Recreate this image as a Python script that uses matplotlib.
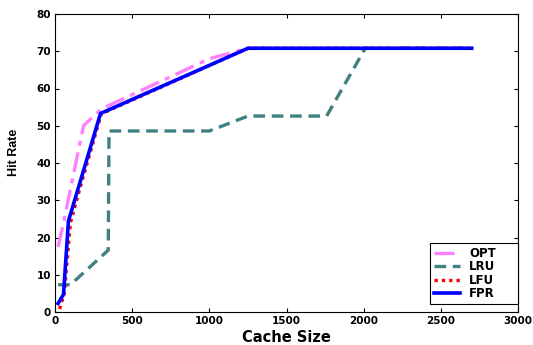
import matplotlib
matplotlib.use('Agg')
import matplotlib.pyplot as plt
from matplotlib.font_manager import FontProperties

plt.rcParams['font.family'] = ['DejaVu Sans']
plt.rcParams['font.weight'] = 'bold'

# ------------------- data -------------------
opt_x = [20, 50, 185, 300, 1000, 1250, 2700]
opt_y = [17.5, 23, 50, 54.5, 68, 70.8, 70.8]

lru_x = [20, 100, 345, 350, 1000, 1250, 1760, 2010, 2700]
lru_y = [7.3, 7.3, 16.6, 48.6, 48.6, 52.6, 52.6, 70.8, 70.8]

lfu_x = [30, 60, 100, 160, 300, 1250, 2700]
lfu_y = [0.8, 5, 24, 33, 53.2, 70.8, 70.8]

fpr_x = [20, 55, 87, 295, 1250, 2700]
fpr_y = [2.3, 4.7, 24.4, 53.3, 70.8, 70.8]

fig = plt.figure(figsize=(5.33, 3.45), dpi=100)
ax = fig.add_axes([55/533., 1 - 312/345., 463/533., 298/345.])

ax.plot(opt_x, opt_y, color='#ff80ff', lw=2.4, ls='-.', dashes=(6, 2, 1.5, 2), label='OPT')
ax.plot(lru_x, lru_y, color='#408080', lw=2.4, ls='--', dashes=(3.5, 2), label='LRU')
ax.plot(lfu_x, lfu_y, color='#ff0000', lw=2.4, ls=':', dashes=(1, 1.2), label='LFU')
ax.plot(fpr_x, fpr_y, color='#0000ff', lw=2.6, label='FPR')

ax.set_xlim(0, 3000)
ax.set_ylim(0, 80)
ax.set_xticks(range(0, 3001, 500))
ax.set_yticks(range(0, 81, 10))
ax.tick_params(direction='in', top=True, right=True, labelsize=7.5, length=3, pad=3)
for lab in ax.get_xticklabels() + ax.get_yticklabels():
    lab.set_fontweight('bold')

ax.set_xlabel('Cache Size', fontsize=10.5, fontweight='bold', labelpad=2.5)
ylab_font = FontProperties(family='Liberation Sans', weight='bold', size=9)
ax.set_ylabel('Hit Rate', fontproperties=ylab_font)
ax.yaxis.set_label_coords(-0.075, 0.535)

leg = ax.legend(loc='lower left', bbox_to_anchor=(0.81, 0.027, 0.19, 0.2), mode='expand',
                fontsize=8.5, handlelength=2.2, handletextpad=0.8, borderaxespad=0,
                fancybox=False, edgecolor='black', framealpha=1,
                labelspacing=0.05, borderpad=0.3)
leg.get_frame().set_linewidth(0.8)
for t in leg.get_texts():
    t.set_fontweight('bold')

fig.savefig('out.png', dpi=100)
